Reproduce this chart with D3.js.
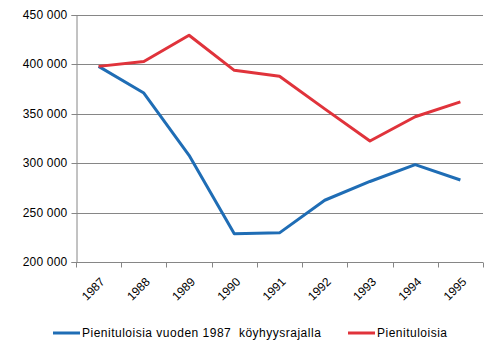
<!DOCTYPE html>
<html>
<head>
<meta charset="utf-8">
<script src="https://cdn.jsdelivr.net/npm/d3@7"></script>
<style>
  body { margin: 0; background: #fff; }
  svg text { font-family: "Liberation Sans", Arial, sans-serif; fill: #000; }
</style>
</head>
<body>
<div id="chart"></div>
<script>
const years = ["1987", "1988", "1989", "1990", "1991", "1992", "1993", "1994", "1995"];
const povertyLine1987 = [398000, 371000, 308000, 228500, 229500, 262500, 281500, 298500, 283000];
const lowIncome = [398000, 403000, 429500, 394000, 388000, 355000, 322500, 347000, 362000];
const yTicks = [200000, 250000, 300000, 350000, 400000, 450000];

const series = [
    { name: "Pienituloisia vuoden 1987  köyhyysrajalla", values: povertyLine1987, color: "#1f6db5" },
    { name: "Pienituloisia", values: lowIncome, color: "#e0333b" }
];

const WIDTH = 498, HEIGHT = 353;
const MARGIN = { LEFT: 76, RIGHT: 15, TOP: 15, BOTTOM: 91 };
const innerW = WIDTH - MARGIN.LEFT - MARGIN.RIGHT;
const innerH = HEIGHT - MARGIN.TOP - MARGIN.BOTTOM;

const svg = d3.select("#chart").append("svg")
    .attr("width", WIDTH)
    .attr("height", HEIGHT);

const g = svg.append("g")
    .attr("transform", `translate(${MARGIN.LEFT}, ${MARGIN.TOP})`);

const x = d3.scaleBand().domain(years).range([0, innerW]);
const y = d3.scaleLinear().domain([200000, 450000]).range([innerH, 0]);

const fmt = d => d3.format(",")(d).replace(/,/g, " ");

// gridlines
g.append("g")
    .selectAll("line")
    .data(yTicks)
    .join("line")
    .attr("x1", 0)
    .attr("x2", innerW)
    .attr("y1", d => Math.round(y(d)) + 0.5)
    .attr("y2", d => Math.round(y(d)) + 0.5)
    .attr("stroke", "#868686");

// Y axis
const yAxis = g.append("g")
    .attr("transform", "translate(0.5, 0)")
    .call(d3.axisLeft(y).tickValues(yTicks).tickSize(5).tickPadding(4).tickFormat(fmt));
yAxis.select(".domain").attr("stroke", "#868686");
yAxis.selectAll(".tick line").attr("stroke", "#868686");
yAxis.selectAll(".tick").attr("transform", d => `translate(0, ${Math.round(y(d)) + 0.5})`);
yAxis.selectAll("text").style("font-size", "12px").style("letter-spacing", "0.2px");

// X axis: ticks at category boundaries
const xAxis = g.append("g")
    .attr("transform", `translate(0, ${Math.round(innerH) + 0.5})`);
xAxis.append("line")
    .attr("x1", 0).attr("x2", innerW)
    .attr("stroke", "#868686");
xAxis.selectAll(".bound")
    .data(years.concat(["end"]))
    .join("line")
    .attr("class", "bound")
    .attr("x1", (d, i) => Math.round(i * x.step()) + 0.5)
    .attr("x2", (d, i) => Math.round(i * x.step()) + 0.5)
    .attr("y1", 0).attr("y2", 5)
    .attr("stroke", "#868686");
xAxis.selectAll(".lbl")
    .data(years)
    .join("text")
    .attr("class", "lbl")
    .attr("text-anchor", "end")
    .style("font-size", "12px")
    .attr("transform", d => `translate(${x(d) + x.bandwidth() / 2 + 1}, 14) rotate(-45)`)
    .attr("dy", "0.7em")
    .text(d => d);

// lines
const line = d3.line()
    .x((d, i) => x(years[i]) + x.bandwidth() / 2)
    .y(d => y(d));

g.selectAll(".series")
    .data(series)
    .join("path")
    .attr("class", "series")
    .attr("fill", "none")
    .attr("stroke", d => d.color)
    .attr("stroke-width", 3)
    .attr("stroke-linejoin", "round")
    .attr("d", d => line(d.values));

// legend
const legendPos = [53, 348];
const legend = svg.append("g")
    .attr("transform", "translate(0, 333)");
const item = legend.selectAll(".item")
    .data(series)
    .join("g")
    .attr("class", "item")
    .attr("transform", (d, i) => `translate(${legendPos[i]}, 0)`);
item.append("line")
    .attr("x1", 0).attr("x2", 27)
    .attr("stroke", d => d.color)
    .attr("stroke-width", 3);
item.append("text")
    .attr("x", 29)
    .attr("dy", "0.35em")
    .style("font-size", "12px")
    .style("letter-spacing", "0.5px")
    .style("white-space", "pre")
    .text(d => d.name);
</script>
</body>
</html>
